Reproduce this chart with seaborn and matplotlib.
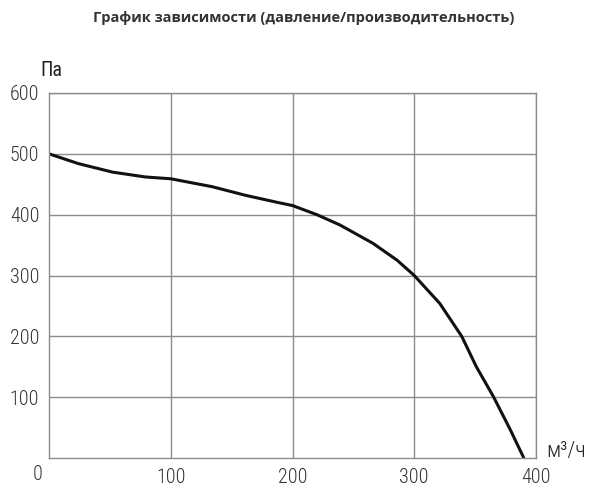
import matplotlib
matplotlib.use("Agg")
import matplotlib.pyplot as plt
import matplotlib.transforms as mtransforms
import seaborn as sns
import pandas as pd

# flow (m3/h) vs pressure (Pa)
flow = [0, 24, 52, 79, 100, 134, 161, 188, 200, 220, 239, 266, 286, 300, 321, 339, 351, 365, 379, 390]
pressure = [500, 484, 470, 462, 459, 446, 432, 420, 415, 400, 383, 353, 325, 300, 254, 200, 150, 101, 46, 0]
x_ticks = [100, 200, 300, 400]
y_ticks = [100, 200, 300, 400, 500, 600]

df = pd.DataFrame({"flow": flow, "pressure": pressure})

sns.set_theme(style="white")
tick_font = ["Roboto Condensed", "Roboto", "DejaVu Sans"]
plt.rcParams["font.family"] = tick_font
plt.rcParams["font.weight"] = "light"

fig = plt.figure(figsize=(6.08, 4.92), dpi=100)
ax = fig.add_axes([49 / 608, 1 - 458 / 492, (536 - 49) / 608, (458 - 93) / 492])

sns.lineplot(data=df, x="flow", y="pressure", ax=ax, color="#111111", linewidth=2.2)
ax.lines[0].set_solid_joinstyle("round")

ax.set_xlim(0, 400)
ax.set_ylim(0, 600)
ax.set_xticks(x_ticks)
ax.set_yticks(y_ticks)
ax.grid(True, color="#8c8c8c", linewidth=1)
for s in ax.spines.values():
    s.set_color("#8c8c8c")
    s.set_linewidth(1)
ax.tick_params(length=0, labelsize=14.5, colors="#333333", pad=7)
ax.set_xlabel("")
ax.set_ylabel("")

# origin label sits left of the corner
off = mtransforms.offset_copy(ax.transAxes, fig=fig, x=-11, y=-7, units="dots")
ax.text(0, 0, "0", transform=off, ha="center", va="top", fontsize=14.5, color="#333333")

fig.text(40 / 608, 1 - 70 / 492, "Па", fontsize=14.5, fontweight="normal", color="#222222",
         va="center", ha="left")
fig.text(546 / 608, 1 - 451 / 492, "м³/ч", fontsize=16, color="#222222", va="center", ha="left")

fig.text(0.5, 1 - 18 / 492, "График зависимости (давление/производительность)",
         family="Open Sans", fontweight="bold", fontsize=10.5, color="#333333",
         ha="center", va="center")

fig.savefig("out.png", dpi=100)
